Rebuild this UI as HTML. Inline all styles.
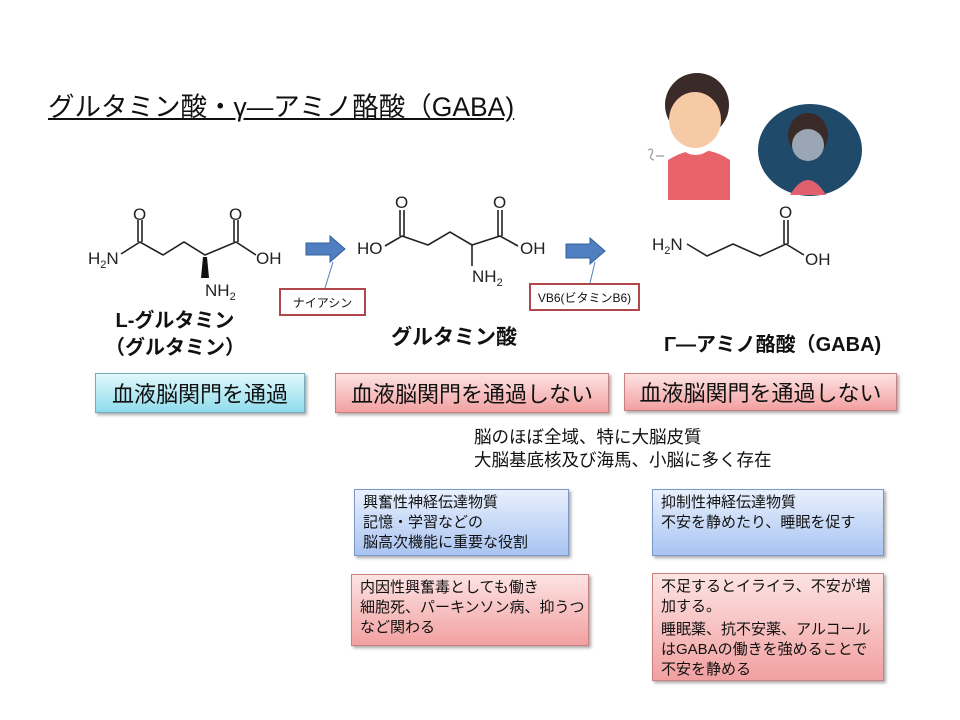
<!DOCTYPE html>
<html><head><meta charset="utf-8"><style>
body{margin:0;width:960px;height:720px;background:#fff;position:relative;overflow:hidden;font-family:"Liberation Sans","Noto Sans CJK JP",sans-serif;color:#111}
.a{position:absolute;white-space:nowrap}
.g{position:absolute;box-sizing:border-box;font-size:22px;display:flex;align-items:center;justify-content:center;box-shadow:2px 2px 3px rgba(0,0,0,.35)}
.b{position:absolute;box-sizing:border-box;font-size:15px;line-height:20px;padding:3px 8px;box-shadow:2px 2px 3px rgba(0,0,0,.35);white-space:nowrap}
.blue{background:linear-gradient(#e8f0fd,#a9c4f2);border:1px solid #7b98c8}
.pink{background:linear-gradient(#fde3e3,#f2a0a0);border:1px solid #c88080}
.lbl{position:absolute;font-size:12px;border:2px solid #b0474a;background:#fff;box-sizing:border-box;display:flex;align-items:center;justify-content:center}
</style></head><body>
<div class="a" style="left:48px;top:85px;font-size:26.5px;text-decoration:underline;">グルタミン酸・γ—アミノ酪酸（GABA)</div>

<svg class="a" style="left:0;top:0" width="960" height="720">
<g stroke="#222" stroke-width="1.6" fill="none">
<polyline points="121,254 140,242 163,255 184,242 205,255 236,242 256,255"/>
<line x1="138" y1="242" x2="138" y2="220"/><line x1="142" y1="242" x2="142" y2="220"/>
<line x1="234" y1="242" x2="234" y2="220"/><line x1="238" y1="242" x2="238" y2="220"/>
<polyline points="385,246 402,236 428,245 450,232 472,245 500,236 518,246"/>
<line x1="400" y1="236" x2="400" y2="210"/><line x1="404" y1="236" x2="404" y2="210"/>
<line x1="498" y1="236" x2="498" y2="210"/><line x1="502" y1="236" x2="502" y2="210"/>
<line x1="472" y1="245" x2="472" y2="266"/>
<polyline points="687,244 707,256 733,244 760,256 786,244 804,255"/>
<line x1="784" y1="244" x2="784" y2="220"/><line x1="788" y1="244" x2="788" y2="220"/>
</g>
<polygon points="203,257 207,257 209,278 201,278" fill="#111"/>
<g font-size="17" fill="#222" font-family="Liberation Sans">
<text x="88" y="264">H<tspan font-size="11" dy="4">2</tspan><tspan dy="-4">N</tspan></text>
<text x="133" y="220">O</text><text x="229" y="220">O</text>
<text x="256" y="264">OH</text>
<text x="205" y="296">NH<tspan font-size="11" dy="4">2</tspan></text>
<text x="357" y="254">HO</text><text x="395" y="208">O</text><text x="493" y="208">O</text>
<text x="520" y="254">OH</text>
<text x="472" y="282">NH<tspan font-size="11" dy="4">2</tspan></text>
<text x="652" y="250">H<tspan font-size="11" dy="4">2</tspan><tspan dy="-4">N</tspan></text>
<text x="779" y="218">O</text><text x="805" y="265">OH</text>
</g>
<polygon points="306,243 330,243 330,236 345,249 330,262 330,255 306,255" fill="#4f7fc0" stroke="#36609a"/>
<polygon points="566,244 590,244 590,238 605,251 590,264 590,258 566,258" fill="#4f7fc0" stroke="#36609a"/>
<line x1="325" y1="288" x2="333" y2="262" stroke="#4f7fc0"/>
<line x1="590" y1="283" x2="595" y2="262" stroke="#4f7fc0"/>
<ellipse cx="810" cy="150" rx="52" ry="46" fill="#1f4a6a"/>
<ellipse cx="808" cy="135" rx="20" ry="22" fill="#3a2a28"/>
<ellipse cx="808" cy="145" rx="16" ry="16" fill="#9aa6b4"/>
<path d="M790,195 Q808,165 826,195Z" fill="#e06070"/>
<path d="M668,200 L668,160 Q700,140 730,160 L730,200Z" fill="#e8646a"/>
<ellipse cx="697" cy="105" rx="32" ry="32" fill="#3a2a28"/>
<ellipse cx="695" cy="120" rx="26" ry="28" fill="#f7caa6"/>
<path d="M680,148 Q695,162 712,148Z" fill="#fff"/>
<path d="M648,150 q6,-3 4,4 q-4,4 2,6 M656,156 h8" stroke="#aaa" stroke-width="1.5" fill="none"/>
</svg>

<div class="lbl" style="left:279px;top:288px;width:87px;height:28px">ナイアシン</div>
<div class="lbl" style="left:529px;top:283px;width:111px;height:28px">VB6(ビタミンB6)</div>

<div class="a" style="left:100px;top:308px;font-size:20px;font-weight:bold;line-height:27px;text-align:center;width:150px">L-グルタミン<br>（グルタミン）</div>
<div class="a" style="left:391px;top:321px;font-size:21px;font-weight:bold">グルタミン酸</div>
<div class="a" style="left:664px;top:328px;font-size:20px;font-weight:bold">Γ—アミノ酪酸（GABA)</div>

<div class="g" style="left:95px;top:373px;width:210px;height:40px;background:linear-gradient(#e0f8fc,#8fdcec);border:1px solid #7ab">血液脳関門を通過</div>
<div class="g pink" style="left:335px;top:373px;width:274px;height:40px">血液脳関門を通過しない</div>
<div class="g pink" style="left:624px;top:373px;width:273px;height:38px">血液脳関門を通過しない</div>

<div class="a" style="left:474px;top:426px;font-size:17.5px;line-height:23px">脳のほぼ全域、特に大脳皮質<br>大脳基底核及び海馬、小脳に多く存在</div>

<div class="b blue" style="left:354px;top:489px;width:215px;height:67px">興奮性神経伝達物質<br>記憶・学習などの<br>脳高次機能に重要な役割</div>
<div class="b blue" style="left:652px;top:489px;width:232px;height:67px">抑制性神経伝達物質<br>不安を静めたり、睡眠を促す</div>
<div class="b pink" style="left:351px;top:574px;width:238px;height:72px">内因性興奮毒としても働き<br>細胞死、パーキンソン病、抑うつ<br>など関わる</div>
<div class="b pink" style="left:652px;top:573px;width:232px;height:108px">不足するとイライラ、不安が増<br>加する。<br><span style="display:block;margin-top:3px">睡眠薬、抗不安薬、アルコール<br>はGABAの働きを強めることで<br>不安を静める</span></div>
</body></html>
